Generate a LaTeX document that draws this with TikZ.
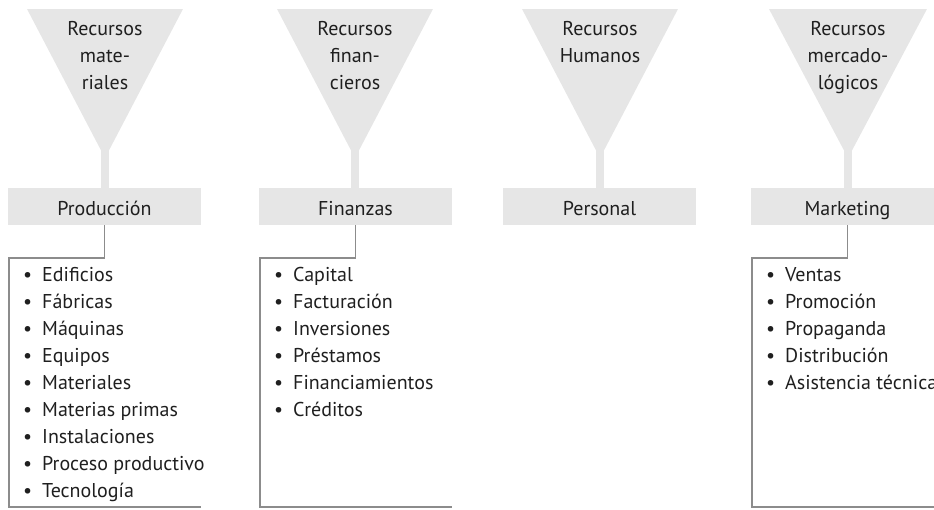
\documentclass[tikz,border=0pt]{standalone}
\usepackage{fontspec}
\setmainfont{PT Sans}
\definecolor{fgray}{HTML}{E6E6E6}
\definecolor{lgray}{HTML}{8C8C8C}
\begin{document}
\begin{tikzpicture}[x=1pt,y=-1pt,
  txt/.style={font=\fontsize{20}{27}\selectfont, text=black!88, inner sep=0pt},
  funnel/.style={fill=fgray},
  unit/.style={txt, fill=fgray, minimum width=193pt, minimum height=37pt, text height=20pt, text depth=3pt},
  ftext/.style={txt, align=center, anchor=base},
  items/.style={txt, align=left, anchor=base west},
  link/.style={draw=lgray, line width=1.2pt}]
\useasboundingbox (0,0) rectangle (934,509);
\clip (0,0) rectangle (934,509);
\newcommand{\bul}{\makebox[19pt][l]{•}}
% ---------- column 1
\fill[funnel] (27,9) -- (183,9) -- (105,158) -- cycle;
\fill[funnel] (101,150) rectangle (109,190);
\node[ftext] (t1) at (105,89) {Recursos\\mate-\\riales};
\node[unit] (prod) at (104.5,206.5) {Producción};
\coordinate (c1a) at (9,258);
\coordinate (c1b) at (201,507);
\draw[link] (prod.south) -- (prod.south |- c1a) -- (c1a) -- (c1a |- c1b) -- (c1b);
\node[items] (l1) at (23,497) {\bul Edificios\\\bul Fábricas\\\bul Máquinas\\\bul Equipos\\\bul Materiales\\\bul Materias primas\\\bul Instalaciones\\\bul Proceso productivo\\\bul Tecnología};
% ---------- column 2
\fill[funnel] (277,9) -- (433,9) -- (355,158) -- cycle;
\fill[funnel] (351,150) rectangle (359,190);
\node[ftext] (t2) at (355,89) {Recursos\\finan-\\cieros};
\node[unit] (fin) at (355.5,206.5) {Finanzas};
\coordinate (c2a) at (260,258);
\coordinate (c2b) at (452,507);
\draw[link] (fin.south) -- (fin.south |- c2a) -- (c2a) -- (c2a |- c2b) -- (c2b);
\node[items] (l2) at (274,416) {\bul Capital\\\bul Facturación\\\bul Inversiones\\\bul Préstamos\\\bul Financiamientos\\\bul Créditos};
% ---------- column 3
\fill[funnel] (522,9) -- (678,9) -- (600,158) -- cycle;
\fill[funnel] (596,150) rectangle (604,190);
\node[ftext] (t3) at (600,62) {Recursos\\Humanos};
\node[unit] (pers) at (599.5,206.5) {Personal};
% ---------- column 4
\fill[funnel] (769,9) -- (927,9) -- (848,158) -- cycle;
\fill[funnel] (844,150) rectangle (852,190);
\node[ftext] (t4) at (848,89) {Recursos\\mercado-\\lógicos};
\node[unit] (mark) at (847.5,206.5) {Marketing};
\coordinate (c4a) at (752,258);
\coordinate (c4b) at (944,507);
\draw[link] (mark.south) -- (mark.south |- c4a) -- (c4a) -- (c4a |- c4b) -- (c4b);
\node[items] (l4) at (766,389) {\bul Ventas\\\bul Promoción\\\bul Propaganda\\\bul Distribución\\\bul Asistencia técnica};
\end{tikzpicture}
\end{document}
